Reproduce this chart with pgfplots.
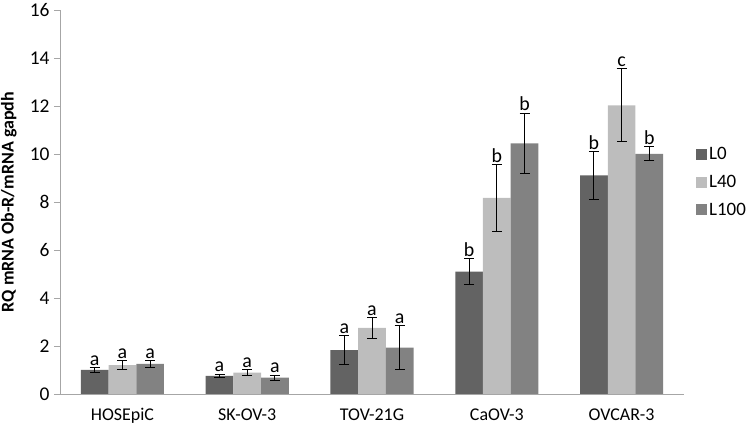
\documentclass[border=0pt]{standalone}
\usepackage{pgfplots}
\usepackage{pgfplotstable}
\pgfplotsset{compat=1.18}
\usepackage{fontspec}
\setmainfont{Carlito}
\definecolor{cLO}{HTML}{636363}
\definecolor{cLF}{HTML}{BDBDBD}
\definecolor{cLH}{HTML}{828282}
\definecolor{axgray}{HTML}{A6A6A6}

\pgfplotstableread{
x y err lab
0 1.00 0.10 a
1 0.76 0.07 a
2 1.83 0.59 a
3 5.10 0.55 b
4 9.11 1.00 b
}\tLO
\pgfplotstableread{
x y err lab
0 1.20 0.20 a
1 0.89 0.13 a
2 2.76 0.43 a
3 8.17 1.38 b
4 12.03 1.52 c
}\tLF
\pgfplotstableread{
x y err lab
0 1.25 0.15 a
1 0.68 0.10 a
2 1.93 0.93 a
3 10.44 1.26 b
4 10.01 0.29 b
}\tLH

\begin{document}
\begin{tikzpicture}
\useasboundingbox (0,0) rectangle (750bp,428bp);
\begin{axis}[
  at={(60bp,34bp)}, anchor=south west,
  scale only axis, width=624bp, height=384bp,
  xmin=-0.5, xmax=4.5, ymin=0, ymax=16,
  ytick={0,2,...,16},
  xtick={0,1,2,3,4},
  xticklabels={HOSEpiC,SK-OV-3,TOV-21G,CaOV-3,OVCAR-3},
  extra x ticks={-0.5,0.5,1.5,2.5,3.5,4.5},
  extra x tick labels={},
  extra x tick style={major tick length=6bp, tick style={axgray, line width=0.8bp}, tick align=outside},
  x tick style={draw=none},
  major tick length=6bp,
  y tick style={axgray, line width=0.8bp},
  tick align=outside,
  axis lines*=left,
  axis line style={axgray, line width=0.8bp, -},
  yticklabel style={font=\fontsize{19.5}{22}\selectfont, text=black, xshift=-1bp},
  xticklabel style={font=\fontsize{18}{21}\selectfont, text=black, yshift=-5bp},
  /pgf/number format/assume math mode=true,
  ylabel={RQ mRNA Ob-R/mRNA gapdh},
  ylabel style={font=\fontsize{18}{20}\selectfont\bfseries, at={(axis description cs:-0.082,0.5)}, anchor=center},
  ybar=0pt, bar width=27.7bp,
  legend style={at={(1.0192,0.552)}, anchor=west, draw=none, fill=none,
    font=\fontsize{19}{22}\selectfont, row sep=10bp, inner xsep=0pt,
    legend cell align=left},
  legend image code/.code={\fill[#1] (0bp,-5.5bp) rectangle (11bp,5.5bp);},
  error bars/y dir=both, error bars/y explicit,
  error bars/error bar style={black, line width=1bp},
  error bars/error mark options={black, line width=1bp, mark size=5bp, rotate=90},
  nodes near coords,
  point meta=explicit symbolic,
  visualization depends on={\thisrow{err} \as \err},
  every node near coord/.append style={font=\fontsize{20}{22}\selectfont, text=black, anchor=south, inner sep=1bp, yshift=1bp, shift={(axis direction cs:0,\err)}},
]
\addplot[fill=cLO, draw=none] table[x=x, y=y, y error=err, meta=lab]{\tLO};
\addplot[fill=cLF, draw=none] table[x=x, y=y, y error=err, meta=lab]{\tLF};
\addplot[fill=cLH, draw=none] table[x=x, y=y, y error=err, meta=lab]{\tLH};
\legend{L0,L40,L100}
\end{axis}
\end{tikzpicture}
\end{document}
